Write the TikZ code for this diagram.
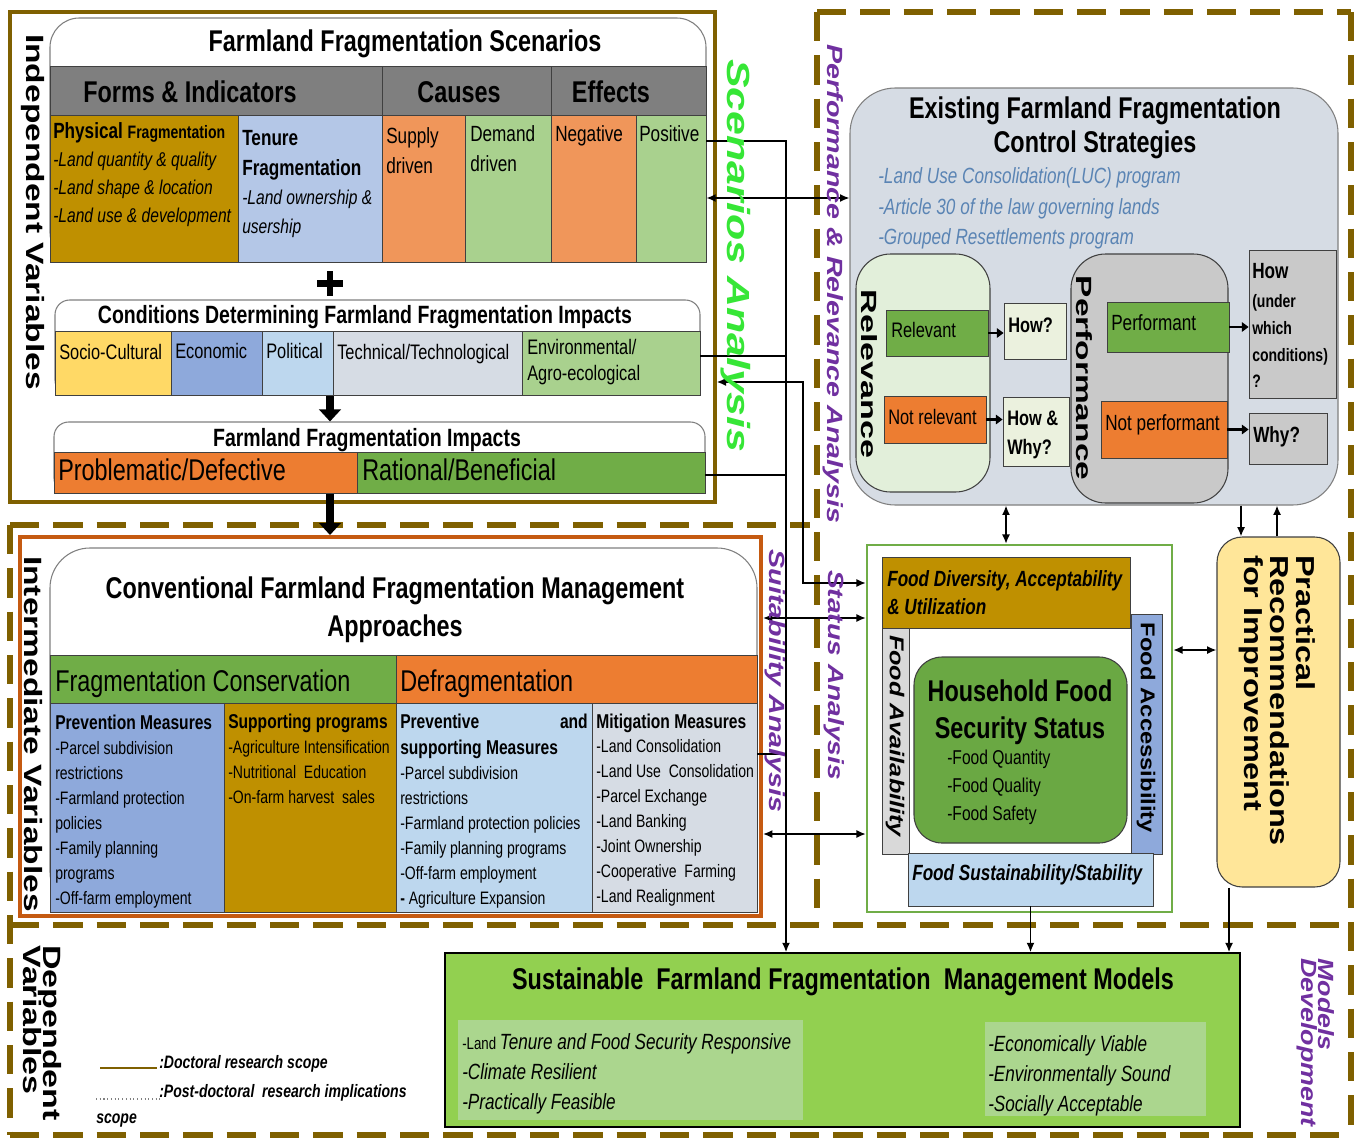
\documentclass[tikz,border=0pt]{standalone}
\usepackage{fontspec}
\usepackage{graphicx}
\setmainfont{Liberation Sans}
\newfontfamily\nf[FakeStretch=0.78]{Liberation Sans}
\usetikzlibrary{fit,arrows.meta}
\newcommand\tls{\lineskiplimit-20pt\relax}

\definecolor{frameol}{HTML}{7F6000}
\definecolor{frameor}{HTML}{C55A11}
\definecolor{gold}{HTML}{BF9000}
\definecolor{tenb}{HTML}{B4C7E7}
\definecolor{orL}{HTML}{F0965A}
\definecolor{grL}{HTML}{A9D18E}
\definecolor{hdr}{HTML}{7F7F7F}
\definecolor{yel}{HTML}{FFD966}
\definecolor{blu}{HTML}{8EA9DB}
\definecolor{bluL}{HTML}{BDD7EE}
\definecolor{gblu}{HTML}{D6DCE4}
\definecolor{orn}{HTML}{ED7D31}
\definecolor{grn}{HTML}{70AD47}
\definecolor{relF}{HTML}{E2EFDA}
\definecolor{gryF}{HTML}{C9C9C9}
\definecolor{howF}{HTML}{EBF1DE}
\definecolor{yelL}{HTML}{FFE699}
\definecolor{mgrn}{HTML}{92D050}
\definecolor{mgrnL}{HTML}{ABD68E}
\definecolor{purp}{HTML}{7030A0}
\definecolor{scg}{HTML}{36E636}
\definecolor{steel}{HTML}{5A84B4}
\definecolor{cellb}{HTML}{404040}
\definecolor{avail}{HTML}{D9D9D9}
\definecolor{hgrn}{HTML}{6AA843}

\begin{document}
\begin{tikzpicture}[x=0.75pt,y=-0.75pt,
  tx/.style={inner sep=0pt, anchor=mid west, yshift=#1},
  tx/.default=-3pt,
  ctr/.style={inner sep=0pt},
  cell/.style={inner sep=0pt, draw=cellb, line width=0.6pt},
  rbox/.style={inner sep=0pt, draw=gray, line width=0.8pt},
  conn/.style={line width=1.2pt},
  arr/.style={conn, -{Latex[length=7pt,width=6pt]}},
  darr/.style={conn, {Latex[length=7pt,width=6pt]}-{Latex[length=7pt,width=6pt]}},
  sarr/.style={line width=1.8pt, -{Triangle[length=5pt,width=7pt]}},
  blk/.style={line width=5.5pt, -{Triangle[length=9pt,width=16pt]}},
  dsh/.style={draw=frameol, line width=4.5pt, dash pattern=on 22pt off 10.5pt},
  vlab/.style={inner sep=0pt, rotate=-90},
  f30b/.style={font=\nf\bfseries\fontsize{22.5}{27}\selectfont},
  f30/.style={font=\nf\fontsize{22.5}{27}\selectfont},
  f25b/.style={font=\nf\bfseries\fontsize{18.75}{22}\selectfont},
  f22/.style={font=\nf\fontsize{16.5}{20}\selectfont},
  f22b/.style={font=\nf\bfseries\fontsize{16.5}{20}\selectfont},
  f22i/.style={font=\nf\itshape\fontsize{16.5}{20}\selectfont},
  f22bi/.style={font=\nf\bfseries\itshape\fontsize{16.5}{20}\selectfont},
  f21/.style={font=\nf\fontsize{15.75}{19}\selectfont},
  f21b/.style={font=\nf\bfseries\fontsize{15.75}{19}\selectfont},
  f20/.style={font=\nf\fontsize{15}{18}\selectfont},
  f20b/.style={font=\nf\bfseries\fontsize{15}{18}\selectfont},
  f20i/.style={font=\nf\itshape\fontsize{15}{18}\selectfont},
  f18/.style={font=\nf\fontsize{13.5}{16}\selectfont},
  f18b/.style={font=\nf\bfseries\fontsize{13.5}{16}\selectfont},
  f18bi/.style={font=\nf\bfseries\itshape\fontsize{13.5}{16}\selectfont},
]
\useasboundingbox (0,0) rectangle (1357,1139);
\fill[white] (0,0) rectangle (1357,1139);

% ---------- section borders ----------
\draw[dsh] (817,12) -- (1351,12);
\draw[dsh] (1351,12) -- (1351,1135);
\draw[dsh] (817,12) -- (817,922);
\draw[dsh] (10,525) -- (810,525);
\draw[dsh] (10,925) -- (1351,925);
\draw[dsh] (10,1135) -- (1351,1135);
\draw[dsh] (10,525) -- (10,1135);
\node[fit={(10,12)(715,502)}, inner sep=0pt, draw=frameol, line width=2.6pt] (indep) {};
\node[fit={(20,537)(761,916)}, inner sep=0pt, draw=frameor, line width=3pt] (interm) {};

% ---------- farmland fragmentation scenarios ----------
\node[rbox, fill=white, rounded corners=22pt, fit={(50,18)(706,262)}] (scen) {};
\node[ctr, f30b] (scenT) at (405,44) {Farmland Fragmentation Scenarios};
\node[cell, fill=hdr, fit={(50,66)(382,115)}] (hForms) {};
\node[cell, fill=hdr, fit={(382,66)(551,115)}] (hCauses) {};
\node[cell, fill=hdr, fit={(551,66)(706,115)}] (hEffects) {};
\node[ctr, f30b] (tForms) at (190,92) {Forms \& Indicators};
\node[ctr, f30b] (tCauses) at (459,92) {Causes};
\node[ctr, f30b] (tEffects) at (611,92) {Effects};

\node[cell, fill=gold, fit={(50,115)(238,262)}] (physC) {};
\node[cell, fill=tenb, fit={(238,115)(382,262)}] (tenC) {};
\node[cell, fill=orL, fit={(382,115)(465,262)}] (supC) {};
\node[cell, fill=grL, fit={(465,115)(551,262)}] (demC) {};
\node[cell, fill=orL, fit={(551,115)(636,262)}] (negC) {};
\node[cell, fill=grL, fit={(636,115)(706,262)}] (posC) {};

\node[tx] (physH) at (53,131) {\nf\bfseries\fontsize{16.5}{20}\selectfont Physical \fontsize{13.5}{16}\selectfont Fragmentation};
\foreach \s [count=\i] in {{-Land quantity \& quality},{-Land shape \& location},{-Land use \& development}}
  \node[tx, f20i] (phys\i) at (53,{159+28*(\i-1)}) {\s};
\node[tx, f22b] (tenH1) at (242,138) {Tenure};
\node[tx, f22b] (tenH2) at (242,168) {Fragmentation};
\node[tx, f20i] (ten1) at (242,197) {-Land ownership \&};
\node[tx, f20i] (ten2) at (242,226) {usership};
\node[tx, f22] (sup1) at (386,136) {Supply};
\node[tx, f22] (sup2) at (386,166) {driven};
\node[tx, f22] (dem1) at (470,134) {Demand};
\node[tx, f22] (dem2) at (470,164) {driven};
\node[tx, f22] (neg1) at (555,134) {Negative};
\node[tx, f22] (pos1) at (639,134) {Positive};

% plus sign
\draw[line width=5pt] (330,271) -- (330,296) (317,283.5) -- (343,283.5);

% ---------- conditions ----------
\node[rbox, fill=white, rounded corners=11pt, fit={(55,300)(700,395)}] (cond) {};
\node[ctr, f25b] (condT) at (365,317) {Conditions Determining Farmland Fragmentation Impacts};
\node[cell, fill=yel, fit={(55,331)(171,395)}] (socC) {};
\node[cell, fill=blu, fit={(171,331)(262,395)}] (ecoC) {};
\node[cell, fill=bluL, fit={(262,331)(333,395)}] (polC) {};
\node[cell, fill=gblu, fit={(333,331)(522,395)}] (tecC) {};
\node[cell, fill=grL, fit={(522,331)(700,395)}] (envC) {};
\node[tx] [f21] (socT) at (59,352) {Socio-Cultural};
\node[tx, f21] (ecoT) at (175,351) {Economic};
\node[tx, f21] (polT) at (266,351) {Political};
\node[tx, f21] (tecT) at (337,352) {Technical/Technological};
\node[tx, f21] (envT1) at (527,347) {Environmental/};
\node[tx, f21] (envT2) at (527,373) {Agro-ecological};

% ---------- impacts ----------
\node[rbox, fill=white, rounded corners=11pt, fit={(54,422)(705,493)}] (imp) {};
\node[ctr, f25b] (impT) at (367,440) {Farmland Fragmentation Impacts};
\node[cell, fill=orn, fit={(54,452)(357,493)}] (probC) {};
\node[cell, fill=grn, fit={(357,452)(705,493)}] (ratC) {};
\node[tx=-5pt, f30] (probT) at (58,470) {Problematic/Defective};
\node[tx=-5pt, f30] (ratT) at (362,470) {Rational/Beneficial};

\coordinate (ax) at (330,0);
\draw[blk] (ax |- cond.south) -- (ax |- imp.north);
\draw[blk] (ax |- imp.south) -- (ax |- interm.north);

% ---------- conventional management approaches ----------
\node[rbox, fill=white, rounded corners=30pt, fit={(50,548)(757,912)}] (conv) {};
\node[ctr, f30b] (convT1) at (395,591) {Conventional Farmland Fragmentation Management};
\node[ctr, f30b] (convT2) at (395,629) {Approaches};
\node[cell, fill=grn, fit={(50,655)(396,703)}] (fcC) {};
\node[cell, fill=orn, fit={(396,655)(757,703)}] (dfC) {};
\node[tx=-5pt, f30] (fcT) at (55,681) {Fragmentation Conservation};
\node[tx=-5pt, f30] (dfT) at (400,681) {Defragmentation};
\node[cell, fill=blu, fit={(50,703)(224,912)}] (prevC) {};
\node[cell, fill=gold, fit={(224,703)(396,912)}] (suppC) {};
\node[cell, fill=bluL, fit={(396,703)(592,912)}] (pdC) {};
\node[cell, fill=gblu, fit={(592,703)(757,912)}] (mitC) {};

\node[tx, f20b] (prevH) at (55,722) {Prevention Measures};
\foreach \s [count=\i] in {{-Parcel subdivision},{restrictions},{-Farmland protection},{policies},{-Family planning},{programs},{-Off-farm employment}}
  \node[tx=-2.5pt, f18] (prev\i) at (55,{748+25*(\i-1)}) {\s};
\node[tx, f20b] (suppH) at (228,721) {Supporting programs};
\foreach \s [count=\i] in {{-Agriculture Intensification},{-Nutritional\ \ Education},{-On-farm harvest\ \ sales}}
  \node[tx=-2.5pt, f18] (supp\i) at (228,{747+25*(\i-1)}) {\s};
\node[tx, f20b] (pdH1) at (400,721) {Preventive};
\node[tx, f20b, anchor=mid east] (pdH2) at (588,721) {and};
\node[tx, f20b] (pdH3) at (400,747) {supporting Measures};
\foreach \s [count=\i] in {{-Parcel subdivision},{restrictions},{-Farmland protection policies},{-Family planning programs},{-Off-farm employment},{\textbf{-} Agriculture Expansion}}
  \node[tx=-2.5pt, f18] (pd\i) at (400,{773+25*(\i-1)}) {\s};
\node[tx, f20b] (mitH) at (596,721) {Mitigation Measures};
\foreach \s [count=\i] in {{-Land Consolidation},{-Land Use\ \ Consolidation},{-Parcel Exchange},{-Land Banking},{-Joint Ownership},{-Cooperative\ \ Farming},{-Land Realignment}}
  \node[tx=-2.5pt, f18] (mit\i) at (596,{746+25*(\i-1)}) {\s};

% ---------- existing control strategies ----------
\node[rbox, fill=gblu, rounded corners=34pt, fit={(850,88)(1338,505)}] (ctrl) {};
\node[ctr, f30b] (ctrlT1) at (1095,111) {Existing Farmland Fragmentation};
\node[ctr, f30b] (ctrlT2) at (1095,145) {Control Strategies};
\node[tx, f22i, text=steel] (ctrl1) at (878,176) {-Land Use Consolidation(LUC) program};
\node[tx, f22i, text=steel] (ctrl2) at (878,207) {-Article 30 of the law governing lands};
\node[tx, f22i, text=steel] (ctrl3) at (878,237) {-Grouped Resettlements program};

\node[rbox, draw=cellb, fill=relF, rounded corners=26pt, fit={(856,254)(990,492)}] (relB) {};
\node[cell, fill=grn, fit={(886,310)(988,356)}] (relv) {};
\node[cell, fill=orn, fit={(884,396)(986,443)}] (nrel) {};
\node[cell, fill=howF, fit={(1004,303)(1066,359)}] (how1) {};
\node[cell, fill=howF, fit={(1003,397)(1069,466)}] (how2) {};
\node[tx, f21] (relvT) at (891,330) {Relevant};
\node[tx, f21] (nrelT) at (888,417) {Not relevant};
\node[tx, f21b] (how1T) at (1008,325) {How?};
\node[tx, f21b] (how2T1) at (1007,418) {How \&};
\node[tx, f21b] (how2T2) at (1007,447) {Why?};

\node[rbox, draw=cellb, fill=gryF, rounded corners=26pt, fit={(1071,254)(1228,503)}] (perfB) {};
\node[cell, fill=grn, fit={(1107,302)(1229,352)}] (perf) {};
\node[cell, fill=orn, fit={(1101,401)(1227,458)}] (nperf) {};
\node[cell, fill=gryF, fit={(1249,250)(1336,398)}] (howc) {};
\node[cell, fill=gryF, fit={(1249,413)(1327,464)}] (why) {};
\node[tx, f22] (perfT) at (1111,323) {Performant};
\node[tx, f22] (nperfT) at (1105,423) {Not performant};
\node[tx, f22b] (howcT) at (1252,271) {How};
\foreach \s [count=\i] in {{(under},{which},{conditions)},{?}}
  \node[tx=-2.5pt, f18b] (howc\i) at (1252,{301+26.7*(\i-1)}) {\s};
\node[tx, f22b] (whyT) at (1253,435) {Why?};

\draw[sarr] (relv.east) -- (relv.east -| how1.west);
\draw[sarr] (nrel.east) -- (nrel.east -| how2.west);
\draw[sarr] (perf.east) -- (perf.east -| howc.west);
\draw[sarr] (nperf.east) -- (nperf.east -| why.west);

% ---------- household food security ----------
\node[inner sep=0pt, draw=grn, line width=1.8pt, fill=white, fit={(867,545)(1172,912)}] (foodF) {};
\node[cell, fill=gold, fit={(882,557)(1130,628)}] (fdiv) {};
\node[cell, fill=avail, fit={(882,628)(909,854)}] (favl) {};
\node[cell, fill=blu, fit={(1131,614)(1162,854)}] (facc) {};
\node[cell, fill=bluL, fit={(908,853)(1153,906)}] (fsus) {};
\node[tx, f22bi] (fdivT1) at (887,579) {Food Diversity, Acceptability};
\node[tx, f22bi] (fdivT2) at (887,607) {\& Utilization};
\node[tx, f22bi] (fsusT) at (912,873) {Food Sustainability/Stability};
\node[inner sep=0pt, draw=cellb, line width=0.8pt, fill=hgrn, rounded corners=21pt, fit={(914,657)(1127,843)}] (hfs) {};
\node[ctr, f30b] (hfsT1) at (1020,691) {Household Food};
\node[ctr, f30b] (hfsT2) at (1020,731) {Security Status};
\foreach \s [count=\i] in {{-Food Quantity},{-Food Quality},{-Food Safety}}
  \node[tx, f20] (hfs\i) at (947,{757+28*(\i-1)}) {\s};

% ---------- practical recommendations ----------
\node[inner sep=0pt, draw=cellb, line width=0.8pt, fill=yelL, rounded corners=19pt, fit={(1217,537)(1340,887)}] (prac) {};

% ---------- models ----------
\node[inner sep=0pt, draw=black, line width=1.2pt, fill=mgrn, fit={(445,953)(1240,1127)}] (models) {};
\node[ctr, f30b] (modT) at (843,982) {Sustainable\ \ Farmland Fragmentation\ \ Management Models};
\node[inner sep=0pt, fill=mgrnL, fit={(458,1020)(803,1120)}] (mL) {};
\node[inner sep=0pt, fill=mgrnL, fit={(985,1022)(1206,1116)}] (mR) {};
\node[tx] (mL1) at (462,1042) {\nf\fontsize{12.75}{15}\selectfont -Land \itshape\fontsize{16.5}{20}\selectfont Tenure and Food Security Responsive};
\node[tx, f22i] (mL2) at (462,1072) {-Climate Resilient};
\node[tx, f22i] (mL3) at (462,1102) {-Practically Feasible};
\node[tx, f22i] (mR1) at (988,1044) {-Economically Viable};
\node[tx, f22i] (mR2) at (988,1074) {-Environmentally Sound};
\node[tx, f22i] (mR3) at (988,1104) {-Socially Acceptable};

% ---------- legend ----------
\draw[frameol, line width=1.5pt] (100,1068) -- (157,1068);
\node[tx, f18bi] (leg1) at (159,1061) {:Doctoral research scope};
\draw[gray, dotted, line width=0.8pt] (96,1099) -- (160,1099);
\node[tx, f18bi] (leg2) at (159,1090) {:Post-doctoral\ \ research implications};
\node[tx, f18bi] (leg3) at (96,1116) {scope};

% ---------- connectors ----------
\coordinate (vx) at (786,0);
\coordinate (wx) at (803,0);
\coordinate (y141) at (0,141);
\coordinate (y198) at (0,198);
\coordinate (y356) at (0,356);
\coordinate (y382) at (0,382);
\coordinate (y475) at (0,475);
\coordinate (y583) at (0,583);
\coordinate (y618) at (0,618);
\coordinate (y650) at (0,650);
\coordinate (y754) at (0,754);
\coordinate (y834) at (0,834);
\coordinate (x1006) at (1006,0);
\coordinate (x1229) at (1229,0);
\coordinate (x1241) at (1241,0);
\coordinate (x1277) at (1277,0);

\draw[arr] (posC.east |- y141) -- (vx |- y141) -- (vx |- models.north);
\draw[conn] (envC.east |- y356) -- (vx |- y356);
\draw[conn] (ratC.east |- y475) -- (vx |- y475);
\draw[conn] (mitC.east |- y754) -- (vx |- y754);
\draw[darr] (posC.east |- y198) -- (ctrl.west |- y198);
\draw[darr] (indep.east |- y382) -- (wx |- y382) -- (wx |- y583) -- (foodF.west |- y583);
\draw[darr] (interm.east |- y618) -- (foodF.west |- y618);
\draw[darr] (interm.east |- y834) -- (foodF.west |- y834);
\draw[darr] (x1006 |- ctrl.south) -- (x1006 |- foodF.north);
\draw[arr] (x1241 |- ctrl.south) -- (x1241 |- prac.north);
\draw[arr] (x1277 |- prac.north) -- (x1277 |- ctrl.south);
\draw[darr] (foodF.east |- y650) -- (prac.west |- y650);
\draw[arr] (fsus.south) -- (fsus.south |- models.north);
\draw[arr] (x1229 |- prac.south) -- (x1229 |- models.north);

% ---------- vertical labels ----------
\node[vlab, font=\bfseries\fontsize{18.75}{22}\selectfont] (lInd) at (33,212) {\scalebox{1.34}[1]{Independent Variables}};
\node[vlab, font=\bfseries\fontsize{18.75}{22}\selectfont] (lInt) at (33,734) {\scalebox{1.34}[1]{Intermediate Variables}};
\node[vlab, anchor=west, align=left, font=\bfseries\fontsize{18.75}{15}\selectfont\tls] (lDep) at (42,945) {\scalebox{1.36}[1]{Dependent}\\\scalebox{1.36}[1]{Variables}};
\node[vlab, text=scg, font=\bfseries\itshape\fontsize{24}{28}\selectfont] (lScen) at (736,256) {\scalebox{1.34}[1]{Scenarios Analysis}};
\node[vlab, text=purp, font=\bfseries\itshape\fontsize{16.5}{20}\selectfont] (lPerf) at (833,284) {\scalebox{1.3}[1]{Performance \& Relevance Analysis}};
\node[vlab, text=purp, font=\bfseries\itshape\fontsize{16.5}{20}\selectfont] (lSuit) at (775,681) {\scalebox{1.3}[1]{Suitability Analysis}};
\node[vlab, text=purp, font=\bfseries\itshape\fontsize{16.5}{20}\selectfont] (lStat) at (834,675) {\scalebox{1.28}[1]{Status Analysis}};
\node[vlab, anchor=west, align=left, text=purp, font=\bfseries\itshape\fontsize{16.5}{12.75}\selectfont\tls] (lMod) at (1316,958) {\scalebox{1.22}[1]{Models}\\\scalebox{1.22}[1]{Development}};
\node[vlab, font=\bfseries\fontsize{16.5}{20}\selectfont] (lRel) at (869,374) {\scalebox{1.55}[1]{Relevance}};
\node[vlab, font=\bfseries\fontsize{16.5}{20}\selectfont] (lPerfB) at (1084,378) {\scalebox{1.52}[1]{Performance}};
\node[vlab, font=\bfseries\itshape\fontsize{15}{18}\selectfont] (lAvl) at (895,736) {\scalebox{1.26}[1]{Food Availability}};
\node[vlab, font=\bfseries\fontsize{15}{18}\selectfont] (lAcc) at (1146,728) {\scalebox{1.19}[1]{Food Accessibility}};
\node[vlab, anchor=west, align=left, font=\bfseries\fontsize{19.5}{19.5}\selectfont\tls] (lPrac) at (1277,555) {\scalebox{1.25}[1]{Practical}\\\scalebox{1.25}[1]{Recommendations}\\\scalebox{1.25}[1]{for Improvement}};
\end{tikzpicture}
\end{document}
